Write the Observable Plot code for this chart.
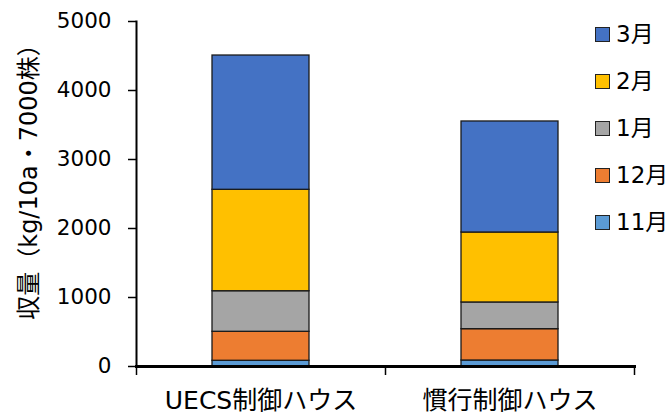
<!DOCTYPE html>
<html><head><meta charset="utf-8">
<script src="https://cdn.jsdelivr.net/npm/d3@7"></script>
<script src="https://cdn.jsdelivr.net/npm/@observablehq/plot@0.6"></script>
<style>
body{margin:0;background:#fff;}
#wrap{position:relative;width:671px;height:418px;font-family:"DejaVu Sans","Noto Sans CJK JP",sans-serif;}
#legend{position:absolute;left:595px;top:0;}
.item{position:absolute;left:0;display:flex;align-items:center;white-space:nowrap;font-size:23px;line-height:1;color:#000;}
.sw{width:13px;height:13px;border:1.5px solid #222;margin-right:6px;flex:none;}
</style></head>
<body><div id="wrap"></div>
<script>
const categories = ["UECS制御ハウス", "慣行制御ハウス"];
const months = ["11月", "12月", "1月", "2月", "3月"];
const uecsValues = [83, 420, 588, 1470, 1946];
const conventionalValues = [87, 454, 387, 1014, 1609];
const monthColors = ["#5B9BD5", "#ED7D31", "#A5A5A5", "#FFC000", "#4472C4"];
const yTicks = [0, 1000, 2000, 3000, 4000, 5000];
const yLabel = "収量（kg/10a・7000株）";

const seriesByHouse = [uecsValues, conventionalValues];
const rows = [];
categories.forEach((house, i) => {
  months.forEach((m, j) => rows.push({house, month: m, value: seriesByHouse[i][j]}));
});

const W = 671, H = 418, mL = 136, mR = 37, mT = 21, mB = 52;
const halfStep = (W - mL - mR) / categories.length / 2;

const chart = Plot.plot({
  width: W, height: H,
  marginLeft: mL, marginRight: mR, marginTop: mT, marginBottom: mB,
  style: {fontFamily: '"DejaVu Sans","Noto Sans CJK JP",sans-serif', background: "#fff", color: "#000", overflow: "visible"},
  x: {domain: categories, paddingInner: 0.61, paddingOuter: 0.305, label: null},
  y: {domain: [0, 5000], label: null},
  color: {domain: months, range: monthColors},
  marks: [
    Plot.barY(rows, {x: "house", y: "value", fill: "month", stroke: "#1a1a1a", strokeWidth: 1.3}),
    Plot.frame({anchor: "left", stroke: "#000", strokeWidth: 2}),
    Plot.frame({anchor: "bottom", stroke: "#000", strokeWidth: 3}),
    Plot.axisY({ticks: yTicks, tickSize: 8, tickPadding: 17, fontSize: 21.5, strokeWidth: 1.5, tickFormat: d => String(d)}),
    Plot.axisX({tickSize: 0, tickPadding: 25, fontSize: 25}),
    Plot.ruleX(categories, {x: d => d, y1: 0, y2: 0, dx: -halfStep, insetBottom: -9, stroke: "#000", strokeWidth: 1.5}),
    Plot.ruleX([categories[categories.length - 1]], {x: d => d, y1: 0, y2: 0, dx: halfStep, insetBottom: -9, stroke: "#000", strokeWidth: 1.5}),
    Plot.text([yLabel], {text: d => d, frameAnchor: "left", textAnchor: "middle", rotate: -90, dx: -107, dy: -18, fontSize: 24})
  ]
});

const wrap = document.getElementById("wrap");
wrap.appendChild(chart);

const legend = document.createElement("div");
legend.id = "legend";
const legendOrder = months.map((m, i) => ({m, c: monthColors[i]})).reverse();
const legendTops = [35, 82, 129, 176, 223];
legendOrder.forEach((d, i) => {
  const item = document.createElement("div");
  item.className = "item";
  item.style.top = (legendTops[i] - 12) + "px";
  const sw = document.createElement("div");
  sw.className = "sw";
  sw.style.background = d.c;
  const t = document.createElement("span");
  t.textContent = d.m;
  item.appendChild(sw);
  item.appendChild(t);
  legend.appendChild(item);
});
wrap.appendChild(legend);
</script>
</body></html>
